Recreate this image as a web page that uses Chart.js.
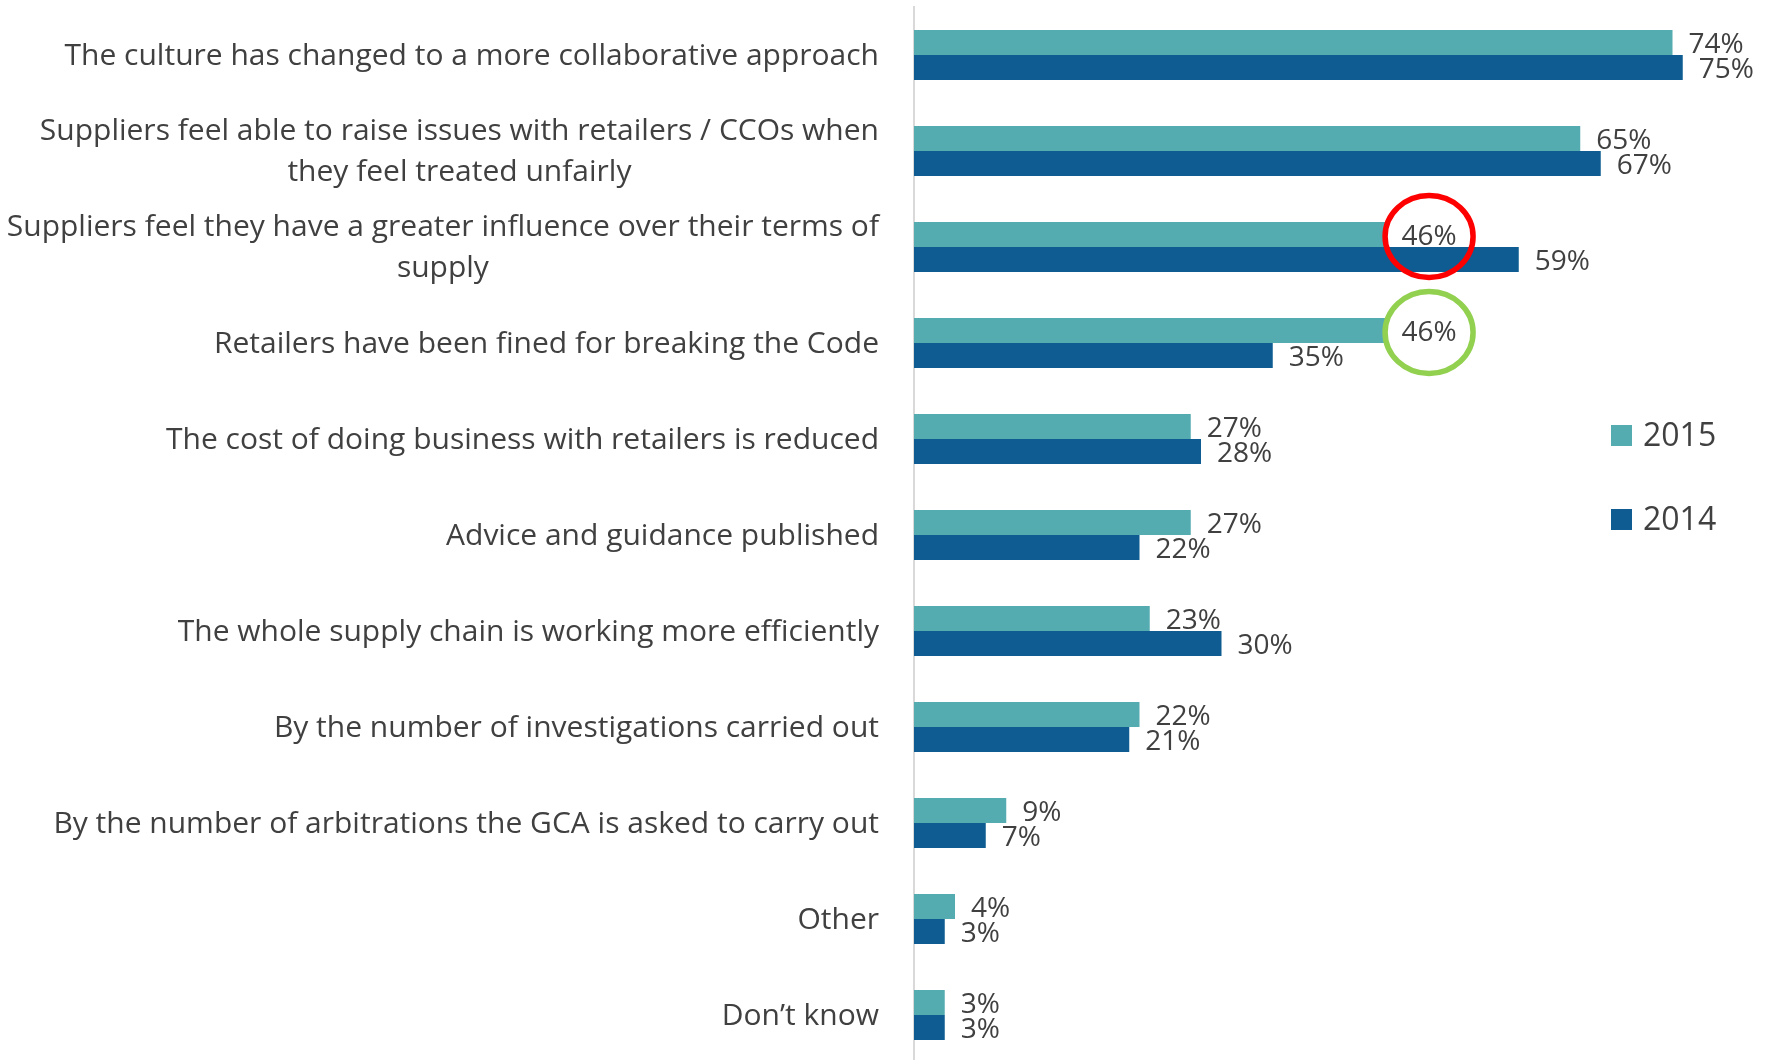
<!DOCTYPE html>
<html lang="en">
<head>
<meta charset="UTF-8">
<title>GCA impact 2014 / 2015</title>
<script src="https://cdn.jsdelivr.net/npm/chart.js"></script>
<style>
	html, body { margin: 0; padding: 0; background: #fff; overflow: hidden; }
	.grafico { position: relative; width: 1767px; height: 1067px; }
</style>
</head>
<body>
<div class="grafico"><canvas id="graficoImpacto"></canvas></div>
<script>
	const categories = [
		'The culture has changed to a more collaborative approach',
		['Suppliers feel able to raise issues with retailers / CCOs when', 'they feel treated unfairly'],
		['Suppliers feel they have a greater influence over their terms of', 'supply'],
		'Retailers have been fined for breaking the Code',
		'The cost of doing business with retailers is reduced',
		'Advice and guidance published',
		'The whole supply chain is working more efficiently',
		'By the number of investigations carried out',
		'By the number of arbitrations the GCA is asked to carry out',
		'Other',
		'Don’t know'
	];
	const years = ['2015', '2014'];
	const values2015 = [74, 65, 46, 46, 27, 27, 23, 22, 9, 4, 3];
	const values2014 = [75, 67, 59, 35, 28, 22, 30, 21, 7, 3, 3];
	// 2015 answers ringed on the chart
	const ringed = [{ index: 2, color: '#FF0000' }, { index: 3, color: '#92D050' }];

	const textColor = '#404040';
	const family = '"Open Sans", sans-serif';

	// category names: right aligned block, lines centred inside it
	const categoryLabels = {
		id: 'categoryLabels',
		afterDraw(chart) {
			const ctx = chart.ctx;
			const y = chart.scales.y;
			const right = chart.chartArea.left - 35;
			ctx.save();
			ctx.font = '30px ' + family;
			ctx.fillStyle = textColor;
			ctx.textAlign = 'center';
			ctx.textBaseline = 'middle';
			chart.data.labels.forEach((label, i) => {
				const lines = Array.isArray(label) ? label : [label];
				const width = Math.max(...lines.map(l => ctx.measureText(l).width));
				const mid = y.getPixelForValue(i) + 1;
				lines.forEach((line, k) => {
					ctx.fillText(line, right - width / 2, mid + (k - (lines.length - 1) / 2) * 41);
				});
			});
			ctx.restore();
		}
	};

	// percentages at the end of each bar, plus the two rings
	const valueLabels = {
		id: 'valueLabels',
		afterDatasetsDraw(chart) {
			const ctx = chart.ctx;
			ctx.save();
			ctx.font = '28px ' + family;
			ctx.fillStyle = textColor;
			ctx.textAlign = 'left';
			ctx.textBaseline = 'middle';
			chart.data.datasets.forEach((ds, d) => {
				chart.getDatasetMeta(d).data.forEach((bar, i) => {
					ctx.fillText(ds.data[i] + '%', bar.x + 16, bar.y + 3);
				});
			});
			ringed.forEach(r => {
				const bar = chart.getDatasetMeta(0).data[r.index];
				const w = ctx.measureText(chart.data.datasets[0].data[r.index] + '%').width;
				ctx.beginPath();
				ctx.ellipse(bar.x + 16 + w / 2, bar.y + 2, 44, 41, 0, 0, 2 * Math.PI);
				ctx.strokeStyle = r.color;
				ctx.lineWidth = 5.5;
				ctx.stroke();
			});
			ctx.restore();
		}
	};

	const sideLegend = {
		id: 'sideLegend',
		afterDraw(chart) {
			const ctx = chart.ctx;
			const left = chart.chartArea.right - 123;
			ctx.save();
			ctx.font = '32px ' + family;
			ctx.textAlign = 'left';
			ctx.textBaseline = 'middle';
			chart.data.datasets.forEach((ds, d) => {
				const top = 425 + d * 84;
				ctx.fillStyle = ds.backgroundColor;
				ctx.fillRect(left, top, 21, 21);
				ctx.fillStyle = textColor;
				ctx.fillText(ds.label, left + 32, top + 12);
			});
			ctx.restore();
		}
	};

	function desenharGrafico() {
		const ctx = document.getElementById('graficoImpacto').getContext('2d');
		new Chart(ctx, {
			type: 'bar',
			data: {
				labels: categories,
				datasets: [{
					label: years[0],
					data: values2015,
					backgroundColor: '#54ACB0'
				}, {
					label: years[1],
					data: values2014,
					backgroundColor: '#0E5C91'
				}]
			},
			options: {
				indexAxis: 'y',
				responsive: true,
				maintainAspectRatio: false,
				animation: false,
				categoryPercentage: 50 / 96,
				barPercentage: 1,
				layout: { padding: { top: 7, right: 33, bottom: 4, left: 0 } },
				plugins: {
					legend: { display: false },
					tooltip: { enabled: false }
				},
				scales: {
					x: { display: false, min: 0, max: 80 },
					y: {
						ticks: { display: false },
						grid: { display: false },
						border: { display: true, color: '#D9D9D9', width: 2 },
						afterFit(scale) { scale.width = 914; }
					}
				}
			},
			plugins: [categoryLabels, valueLabels, sideLegend]
		});
	}

	document.fonts.load('30px "Open Sans"').then(desenharGrafico, desenharGrafico);
</script>
</body>
</html>
